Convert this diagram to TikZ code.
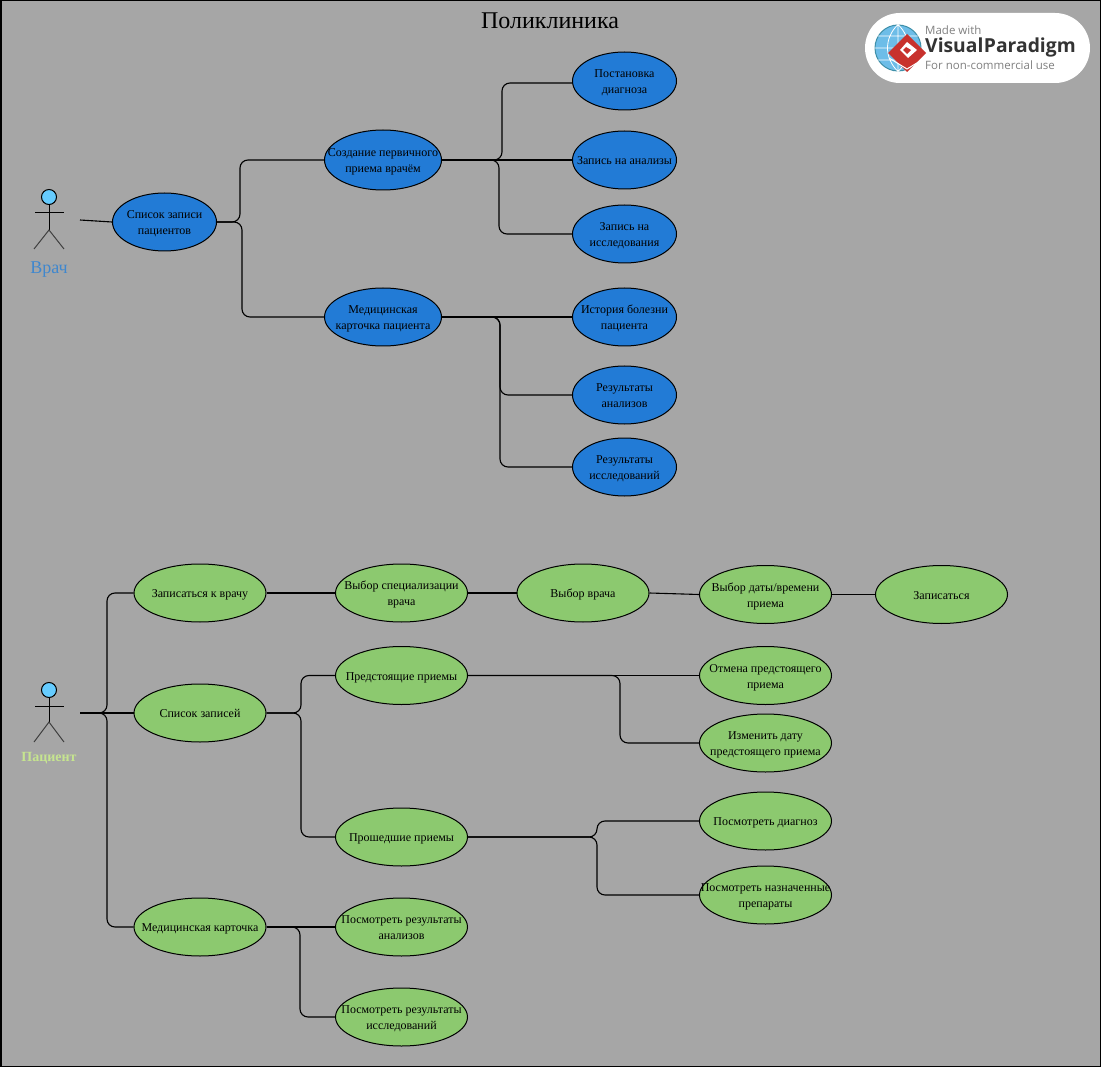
\documentclass[tikz,border=0pt]{standalone}
\usepackage{fontspec}
\setmainfont{Liberation Serif}
\newfontfamily\logofont{Open Sans}
\usetikzlibrary{shapes.geometric,calc}
\definecolor{bgc}{HTML}{A6A6A6}
\definecolor{bluec}{HTML}{227BD6}
\definecolor{greenc}{HTML}{8CC96F}
\definecolor{headc}{HTML}{66CCFF}
\definecolor{doclabel}{HTML}{3F87CE}
\definecolor{patlabel}{HTML}{C6E58F}
\definecolor{globec}{HTML}{6DBDE8}
\definecolor{glober}{HTML}{3E8FA8}
\definecolor{logored}{HTML}{C8322D}
\newcommand\mk[1]{\makebox[0pt]{\smash{\raisebox{-0.43em}{\fontsize{12}{16}\selectfont\begin{tabular}{@{}c@{}}#1\end{tabular}}}}}
\tikzset{
 x=1pt,y=-1pt,
 uc/.style={ellipse,draw=black,line width=1pt,inner sep=0pt,text=black},
 bl/.style={uc,fill=bluec,minimum width=104pt,minimum height=58pt},
 gr/.style={uc,fill=greenc,minimum width=132pt,minimum height=58pt},
 conn/.style={draw=black,line width=1.1pt,rounded corners=8pt},
 stick/.style={draw=black,line width=1pt},
 leg/.style={draw=black!75,line width=1pt},
 head/.style={circle,draw=black,fill=headc,line width=1pt,minimum size=15pt,inner sep=0pt},
}
\begin{document}
\begin{tikzpicture}
\useasboundingbox (0,0) rectangle (1101,1067);
\fill[bgc] (0,0) rectangle (1101,1067);
\draw[black,line width=1.5pt] (0.75,0.75) rectangle (1100.25,1066.25);
\node[inner sep=0pt,font=\fontsize{24}{28}\selectfont] (title) at (550,21) {Поликлиника};
% logo
\node[fill=white,rounded corners=35pt,minimum width=225pt,minimum height=70pt,inner sep=0pt] (logo) at (977.5,48) {};
\node[circle,draw=glober,fill=globec,line width=1pt,minimum size=46pt,inner sep=0pt] (globe) at (898,48) {};
\draw[white,line width=0.8pt] (globe.west)--(globe.east) (globe.north)--(globe.south)
 (globe.north) .. controls (884,38) and (884,58) .. (globe.south)
 (globe.north) .. controls (912,38) and (912,58) .. (globe.south)
 (878,36)--(918,36) (878,60)--(918,60);
\fill[logored] (907,34)--(926,53)--(907,72)--(888,53)--cycle;
\fill[white] (907,42)--(917,50)--(908,58)--(905,55)--(900,50)--cycle;
\fill[logored] (906,47)--(911,50)--(907,54)--(903,50)--cycle;
\draw[white,line width=1pt] (889,58)--(907,69)--(925,58);
\node[anchor=west,inner sep=0pt,text=black!50,font=\logofont\fontsize{11.5}{13}\selectfont] (lg1) at (925,30) {Made with};
\node[anchor=west,inner sep=0pt,text=black!80,font=\logofont\bfseries\fontsize{19.3}{24}\selectfont] (lg2) at (925,47) {Visual\kern0.5pt Paradigm};
\node[anchor=west,inner sep=0pt,text=black!50,font=\logofont\fontsize{11.5}{13}\selectfont] (lg3) at (925,65) {For non-commercial use};
% doctor actor
\node[head] (dh) at (49,197) {};
\coordinate (dh1) at (49,230);
\coordinate (dal) at (35,213);
\coordinate (dar) at (64,213);
\coordinate (dll) at (34,249);
\coordinate (dlr) at (64,249);
\draw[stick] (dh.south)--(dh1) (dal)--(dar);
\draw[leg] (dll)--(dh1)--(dlr);
\node[inner sep=0pt,text=doclabel,font=\fontsize{18}{20}\selectfont] (dl) at (49,270) {Врач};
\coordinate (dfree) at (80,220);
% patient actor
\node[head] (ph) at (49,690) {};
\coordinate (ph1) at (49,722);
\coordinate (pal) at (35,706);
\coordinate (par) at (64,706);
\coordinate (pll) at (34,742);
\coordinate (plr) at (64,742);
\draw[stick] (ph.south)--(ph1) (pal)--(par);
\draw[leg] (pll)--(ph1)--(plr);
\node[inner sep=0pt,text=patlabel,font=\bfseries\fontsize{14}{16}\selectfont] (pl) at (49,758) {Пациент};
\coordinate (pfree) at (80,713);
% doctor nodes
\node[bl] (d0) at (164.5,222) {\mk{Список записи\\пациентов}};
\node[bl,minimum width=117pt,minimum height=60pt] (d1) at (383,160) {\mk{Создание первичного\\приема врачём}};
\node[bl,minimum width=117pt] (d2) at (383,317) {\mk{Медицинская\\карточка пациента}};
\node[bl] (d11) at (624.5,81) {\mk{Постановка\\диагноза}};
\node[bl] (d12) at (624.5,160) {\mk{Запись на анализы}};
\node[bl] (d13) at (624.5,234) {\mk{Запись на\\исследования}};
\node[bl] (d21) at (624.5,317) {\mk{История болезни\\пациента}};
\node[bl] (d22) at (624.5,395) {\mk{Результаты\\анализов}};
\node[bl] (d23) at (624.5,467) {\mk{Результаты\\исследований}};
% patient nodes
\node[gr] (p1) at (200,593) {\mk{Записаться к врачу}};
\node[gr] (p2) at (401.5,593) {\mk{Выбор специализации\\врача}};
\node[gr] (p3) at (583,593) {\mk{Выбор врача}};
\node[gr] (p4) at (765.5,594.5) {\mk{Выбор даты/времени\\приема}};
\node[gr] (p5) at (941.5,594.5) {\mk{Записаться}};
\node[gr] (p6) at (200,713) {\mk{Список записей}};
\node[gr] (p7) at (401.5,675.5) {\mk{Предстоящие приемы}};
\node[gr] (p8) at (765.5,675.5) {\mk{Отмена предстоящего\\приема}};
\node[gr] (p9) at (765.5,743) {\mk{Изменить дату\\предстоящего приема}};
\node[gr] (p10) at (401.5,837) {\mk{Прошедшие приемы}};
\node[gr] (p11) at (765.5,821) {\mk{Посмотреть диагноз}};
\node[gr] (p12) at (765.5,895) {\mk{Посмотреть назначенные\\препараты}};
\node[gr] (p13) at (200,927) {\mk{Медицинская карточка}};
\node[gr] (p14) at (401.5,927) {\mk{Посмотреть результаты\\анализов}};
\node[gr] (p15) at (401.5,1017) {\mk{Посмотреть результаты\\исследований}};
% elbow columns
\coordinate (c1) at (240,0);
\coordinate (c2) at (242,0);
\coordinate (c3) at (502,0);
\coordinate (c4) at (499,0);
\coordinate (c5) at (500,0);
\coordinate (c6) at (107,0);
\coordinate (c7) at (301,0);
\coordinate (c8) at (620,0);
\coordinate (c9) at (597,0);
\coordinate (c10) at (300,0);
% connectors
\draw[conn] (dfree)--(d0.west);
\draw[conn] (d0.east)--(d0.east -| c1)|-(d1.west);
\draw[conn] (d0.east)--(d0.east -| c2)|-(d2.west);
\draw[conn] (d1.east)--(d1.east -| c3)|-($(d11.west)+(0,2)$);
\draw[conn] (d1.east)--(d12.west);
\draw[conn] (d1.east)--(d1.east -| c4)|-(d13.west);
\draw[conn] (d2.east)--(d21.west);
\draw[conn] (d2.east)--(d2.east -| c5)|-(d22.west);
\draw[conn] (d2.east)--(d2.east -| c5)|-(d23.west);
\draw[conn] (pfree)--(pfree -| c6)|-(p1.west);
\draw[conn] (pfree)--(p6.west);
\draw[conn] (pfree)--(pfree -| c6)|-(p13.west);
\draw[conn] (p1.east)--(p2.west);
\draw[conn] (p2.east)--(p3.west);
\draw[conn] (p3.east)--(p4.west);
\draw[conn] (p4.east)--(p5.west);
\draw[conn] (p6.east)--(p6.east -| c7)|-(p7.west);
\draw[conn] (p6.east)--(p6.east -| c7)|-(p10.west);
\draw[conn] (p7.east)--(p8.west);
\draw[conn] (p7.east)--(p7.east -| c8)|-(p9.west);
\draw[conn] (p10.east)--(p10.east -| c9)|-(p11.west);
\draw[conn] (p10.east)--(p10.east -| c9)|-(p12.west);
\draw[conn] (p13.east)--(p14.west);
\draw[conn] (p13.east)--(p13.east -| c10)|-(p15.west);
\end{tikzpicture}
\end{document}
